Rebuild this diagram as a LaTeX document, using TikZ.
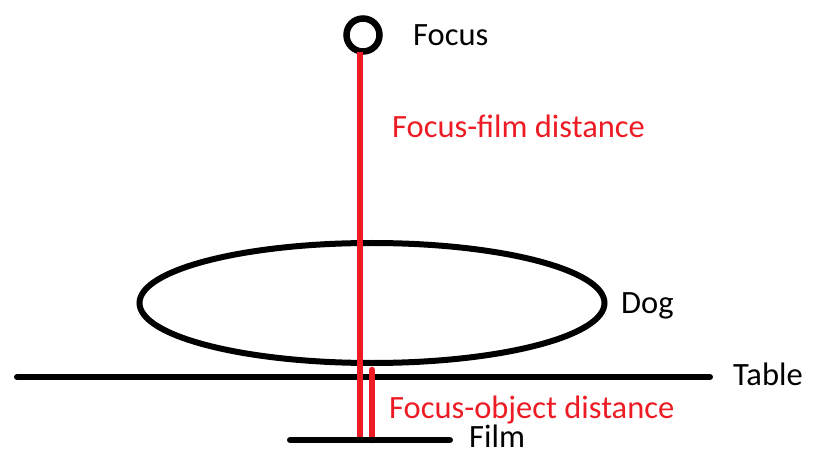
\documentclass[tikz,border=0pt]{standalone}
\usepackage{fontspec}
\setmainfont{Carlito}
\usetikzlibrary{shapes.geometric,positioning}
\definecolor{xred}{RGB}{237,28,36}

\begin{document}
\begin{tikzpicture}[
  x=1pt,y=-1pt,
  blk/.style={line width=6pt,line cap=round},
  ray/.style={draw=xred,line width=6.5pt},
  lbl/.style={anchor=base west,inner sep=0pt,font=\fontsize{32.5}{38}\selectfont},
  redlbl/.style={lbl,text=xred}
]
  \useasboundingbox (0,0) rectangle (825,449);
  \node[circle,draw,line width=6.5pt,minimum size=33pt,inner sep=0pt] (focus) at (363,35) {};
  \node[ellipse,draw,line width=6pt,minimum width=465pt,minimum height=120pt,inner sep=0pt] (dog) at (372,303) {};
  \coordinate (tableL) at (17,377);
  \coordinate (tableR) at (710,377);
  \coordinate (filmL) at (290,440);
  \coordinate (filmR) at (450,440);
  \coordinate (ffTop) at (360,52);
  \coordinate (foTop) at (372,370);
  \draw[blk] (tableL) -- (tableR);
  % rays
  \draw[ray] (ffTop) -- (ffTop |- filmL);
  \draw[ray,line cap=round] (foTop) -- (foTop |- filmL);
  \draw[blk] (filmL) -- (filmR);
  % labels
  \node[lbl] (focuslbl) at (413,46) {Focus};
  \node[redlbl] (fflbl) at (392,138) {Focus-film distance};
  \node[lbl] (doglbl) at (621,313) {Dog};
  \node[lbl] (tablelbl) at (733,385) {Table};
  \node[redlbl] (folbl) at (389,418) {Focus-object distance};
  \node[lbl] (filmlbl) at (469,447) {Film};
\end{tikzpicture}
\end{document}
